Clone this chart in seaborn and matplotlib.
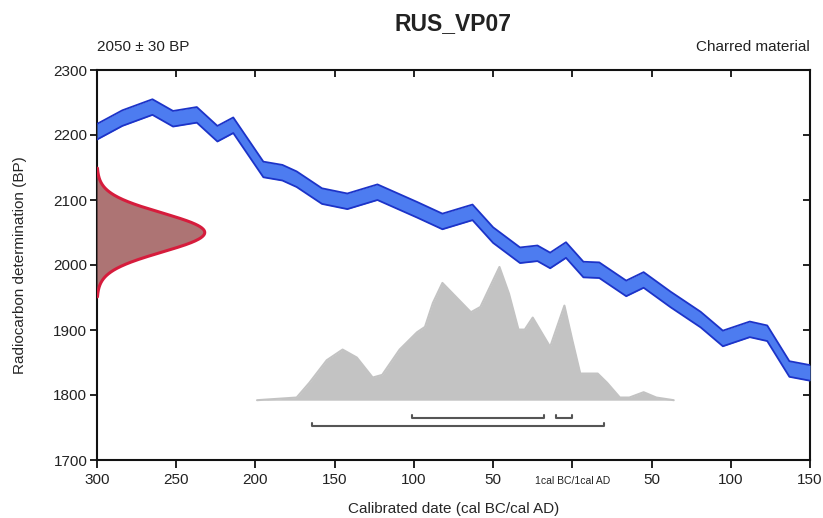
import numpy as np
import pandas as pd
import matplotlib
matplotlib.use("Agg")
import matplotlib.pyplot as plt
import matplotlib.transforms as mtrans
import seaborn as sns

# calibration curve, cal BC as negative years, cal AD positive
curve_years = [-300, -284, -265, -252, -237, -224, -214, -195, -183, -174, -158,
               -142, -123, -98, -82, -63, -50, -33, -22, -14, -4, 7, 17, 34, 45,
               62, 81, 95, 112, 123, 137, 150]
curve_bp = [2205, 2226, 2243, 2225, 2231, 2202, 2215, 2147, 2142, 2132, 2106,
            2098, 2112, 2085, 2067, 2081, 2046, 2015, 2018, 2007, 2023, 1993, 1992,
            1964, 1977, 1947, 1916, 1887, 1901, 1895, 1840, 1834]
curve_err = 12

# calibrated probability (relative, peak = 1)
prob_years = [-199, -174, -166, -155, -145, -136, -126, -120, -109, -98, -93, -88,
              -82, -73, -64, -58, -54, -46, -40, -34, -30, -25, -19, -14, -5, 0,
              5, 16, 22, 30, 36, 45, 53, 64]
prob_rel = [0, 0.02, 0.13, 0.30, 0.38, 0.32, 0.17, 0.19, 0.38, 0.51, 0.55, 0.73,
            0.88, 0.77, 0.66, 0.70, 0.80, 1.00, 0.80, 0.53, 0.53, 0.62, 0.50, 0.40,
            0.71, 0.45, 0.20, 0.20, 0.13, 0.02, 0.02, 0.06, 0.02, 0]

# radiocarbon determination
c14_age = 2050
c14_error = 30

# calibrated ranges (68.2% and 95.4%)
range_68 = [(-101, -18), (-10, 0)]
range_95 = [(-164, 20)]

x_ticks = [-300, -250, -200, -150, -100, -50, 0, 50, 100, 150]
x_labels = ["300", "250", "200", "150", "100", "50", "1cal BC/1cal AD", "50", "100", "150"]
y_ticks = [1700, 1800, 1900, 2000, 2100, 2200, 2300]

sns.set_theme(style="ticks")
plt.rcParams["font.family"] = ["Liberation Sans", "DejaVu Sans"]
plt.rcParams["text.color"] = "#222222"
plt.rcParams["lines.solid_joinstyle"] = "round"

fig = plt.figure(figsize=(8.23, 5.18), dpi=100)
ax = fig.add_axes([97 / 823, 1 - 460 / 518, 713 / 823, 390 / 518])

# calibration curve band
curve = pd.DataFrame({"year": curve_years, "bp": curve_bp})
curve["hi"] = curve["bp"] + curve_err
curve["lo"] = curve["bp"] - curve_err
ax.fill_between(curve["year"], curve["lo"], curve["hi"], color="#4d7cf0", lw=0, zorder=3)
sns.lineplot(data=curve, x="year", y="hi", color="#1c33c8", lw=1.3, estimator=None, ax=ax, zorder=4)
sns.lineplot(data=curve, x="year", y="lo", color="#1c33c8", lw=1.3, estimator=None, ax=ax, zorder=4)

# calibrated distribution
base_bp = 1792
prob = pd.DataFrame({"year": prob_years, "p": prob_rel})
prob["bp"] = base_bp + prob["p"] * 205
ax.fill_between(prob["year"], base_bp, prob["bp"], color="#c3c3c3", lw=0, zorder=2)
sns.lineplot(data=prob, x="year", y="bp", color="#c3c3c3", lw=1.5, estimator=None, ax=ax, zorder=2)

# measured age distribution on the y axis
bp_grid = np.linspace(c14_age - 3.3 * c14_error, c14_age + 3.3 * c14_error, 300)
dens = np.exp(-0.5 * ((bp_grid - c14_age) / c14_error) ** 2)
gx = -300 + dens * 68
ax.fill_betweenx(bp_grid, -300, gx, color="#ad7474", lw=0, zorder=3)
sns.lineplot(x=gx, y=bp_grid, sort=False, estimator=None, color="#d61c3c", lw=2.2, ax=ax, zorder=4)

# range bars
for ranges, level in [(range_68, 1765), (range_95, 1752)]:
    for start, end in ranges:
        seg = pd.DataFrame({"x": [start, start, end, end], "y": [level + 5, level, level, level + 5]})
        sns.lineplot(data=seg, x="x", y="y", sort=False, estimator=None, color="#555555", lw=1.5, ax=ax)

ax.set_xlim(-300, 150)
ax.set_ylim(1700, 2300)
ax.set_xticks(x_ticks)
ax.set_xticklabels(x_labels)
ax.set_yticks(y_ticks)
ax.tick_params(axis="x", direction="out", length=6, width=1.3, labelsize=11, pad=3, colors="#111111", labelcolor="#222222")
ax.tick_params(axis="y", direction="out", length=5, width=1.3, labelsize=11, pad=2, colors="#111111", labelcolor="#222222")
shift_down = mtrans.ScaledTranslation(0, -3 / 100, fig.dpi_scale_trans)
for lab in ax.get_xticklabels():
    if "cal" in lab.get_text():
        lab.set_fontsize(7.5)
        lab.set_transform(lab.get_transform() + shift_down)
for s in ax.spines.values():
    s.set_visible(True)
    s.set_linewidth(1.5)
    s.set_color("#111111")

top = ax.secondary_xaxis("top")
top.set_xticks(x_ticks)
top.set_xticklabels([])
top.tick_params(direction="in", length=5, width=1.3, colors="#111111")
right = ax.secondary_yaxis("right")
right.set_yticks(y_ticks)
right.set_yticklabels([])
right.tick_params(direction="in", length=5, width=1.3, colors="#111111")

ax.set_xlabel("Calibrated date (cal BC/cal AD)", fontsize=11, labelpad=11)
ax.set_ylabel("Radiocarbon determination (BP)", fontsize=11, labelpad=19)

fig.text(453 / 823, 1 - 24 / 518, "RUS_VP07", ha="center", va="center", fontsize=16.5, fontweight="bold")
ax.annotate("2050 ± 30 BP", xy=(0, 1), xycoords="axes fraction", xytext=(0, 23),
            textcoords="offset pixels", ha="left", va="center", fontsize=11)
ax.annotate("Charred material", xy=(1, 1), xycoords="axes fraction", xytext=(0, 23),
            textcoords="offset pixels", ha="right", va="center", fontsize=11)

fig.savefig("out.png", dpi=100)
